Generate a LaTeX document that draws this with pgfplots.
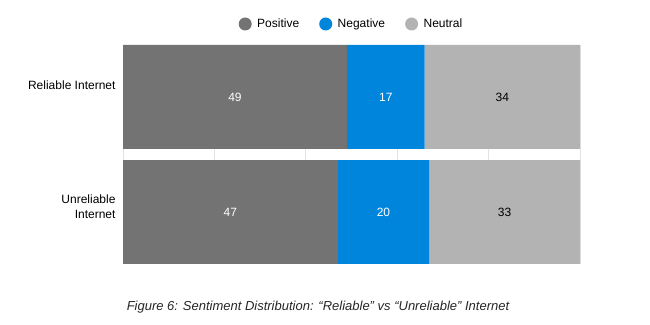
\documentclass[border=0pt]{standalone}
\usepackage{pgfplots}
\pgfplotsset{compat=1.18}
\usepackage{fontspec}
\setmainfont{Liberation Sans}
\definecolor{cpos}{HTML}{737373}
\definecolor{cneg}{HTML}{0085DD}
\definecolor{cneu}{HTML}{B3B3B3}
\definecolor{cgrid}{HTML}{E3E3E3}
\begin{document}
\begin{tikzpicture}
\path[use as bounding box] (0,0) rectangle (650pt,324pt);
\begin{axis}[
  at={(123pt,60pt)}, anchor=south west,
  width=457pt, height=219pt, scale only axis,
  xbar stacked, bar width=104pt,
  xmin=0, xmax=100, ymin=-0.452, ymax=1.452,
  xtick={0,20,...,100}, xticklabels={}, xmajorgrids,
  grid style={cgrid, line width=0.8pt},
  major tick length=0pt,
  axis line style={draw=none},
  ytick={0.043,1.104},
  yticklabels={{Unreliable\\Internet},{Reliable Internet}},
  yticklabel style={align=right, font=\fontsize{12}{15}\selectfont, xshift=-4pt},
  legend style={draw=none, legend columns=3, at={(0.5,1)}, anchor=center, yshift=21pt,
    font=\fontsize{12}{14}\selectfont,
    /tikz/every even column/.append style={column sep=18pt}},
]
\addplot[fill=cpos, draw=none, legend image code/.code={\fill[cpos] (0pt,0pt) circle (6.5pt); \path (10pt,0pt);}] coordinates {(47,0) (49,1)};
\addplot[fill=cneg, draw=none, legend image code/.code={\fill[cneg] (0pt,0pt) circle (6.5pt); \path (10pt,0pt);}] coordinates {(20,0) (17,1)};
\addplot[fill=cneu, draw=none, legend image code/.code={\fill[cneu] (0pt,0pt) circle (6.5pt); \path (10pt,0pt);}] coordinates {(33,0) (34,1)};
\legend{Positive, Negative, Neutral}
\end{axis}
\begin{axis}[
  at={(123pt,60pt)}, anchor=south west,
  width=457pt, height=219pt, scale only axis,
  xmin=0, xmax=100, ymin=-0.452, ymax=1.452,
  hide axis,
]
\addplot[only marks, mark=none, nodes near coords, point meta=explicit symbolic,
  nodes near coords align=center,
  every node near coord/.append style={anchor=center, text=white, font=\fontsize{12}{14}\selectfont}]
  coordinates {(24.5,1)[49] (57.5,1)[17] (23.5,0)[47] (57,0)[20]};
\addplot[only marks, mark=none, nodes near coords, point meta=explicit symbolic,
  nodes near coords align=center,
  every node near coord/.append style={anchor=center, text=black, font=\fontsize{12}{14}\selectfont}]
  coordinates {(83,1)[34] (83.5,0)[33]};
\end{axis}
\node[font=\fontsize{13}{15}\selectfont\itshape, text=black!85] at (318pt,17pt) {Figure 6: Sentiment Distribution: “Reliable” vs “Unreliable” Internet};
\end{tikzpicture}
\end{document}
